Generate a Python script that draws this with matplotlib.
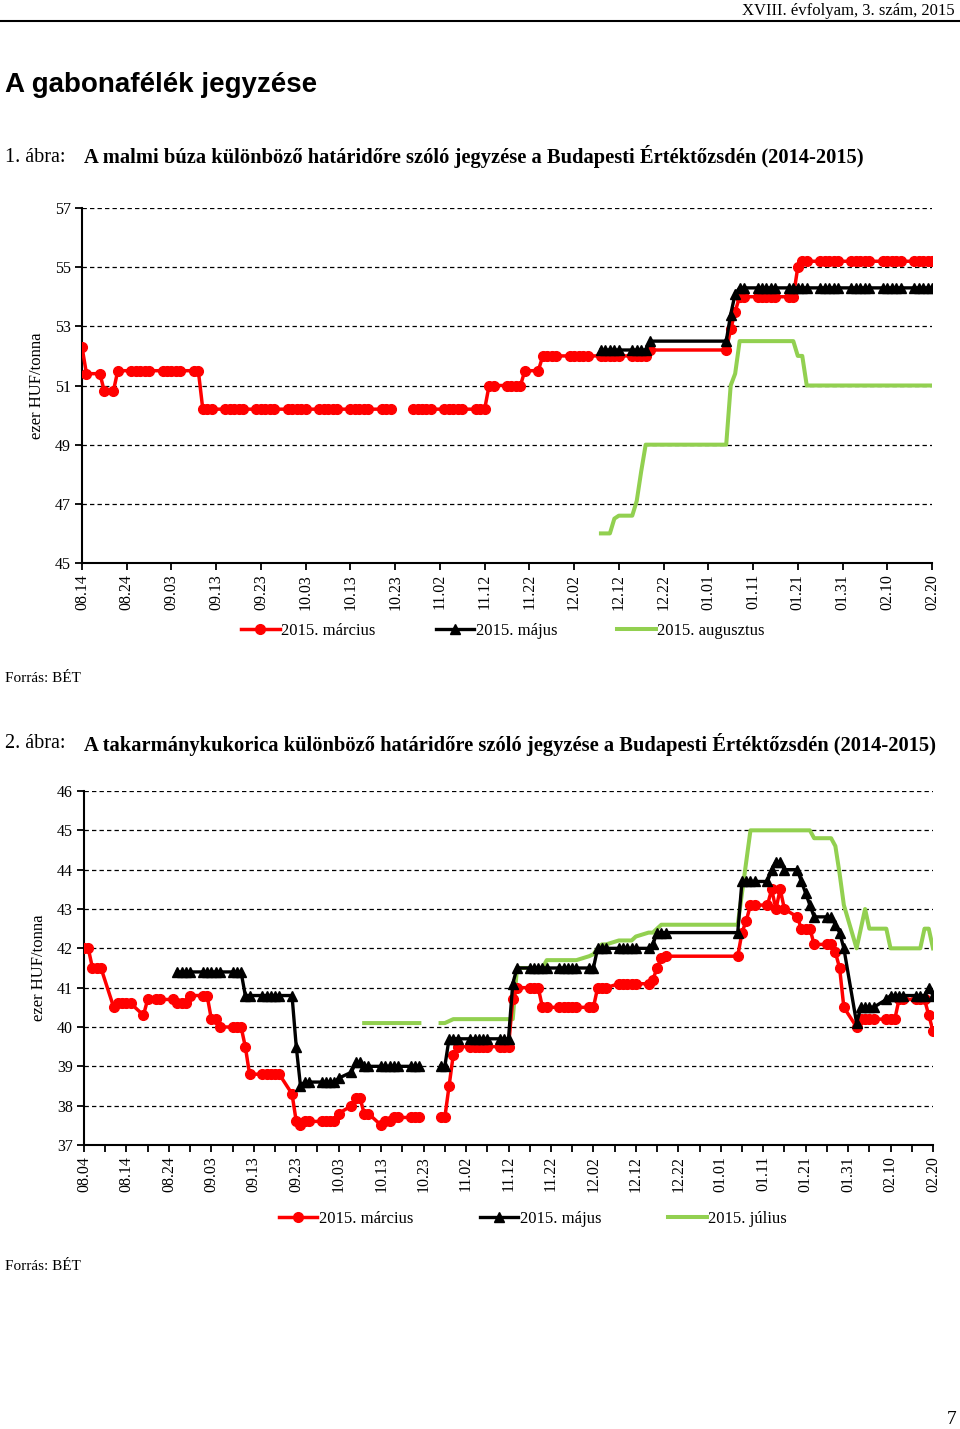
import numpy as np
import pandas as pd
import matplotlib
matplotlib.use("Agg")
import matplotlib.pyplot as plt
import matplotlib.dates as mdates

N = None        # no quote on that day (holiday / not traded yet)
GAP = np.nan    # blank cell -> the line breaks

# ---- 1. ábra: malmi búza, one row per week (Mon..Fri), first week 2014-08-11
wheat_weeks = pd.date_range("2014-08-11", "2015-02-16", freq="W-MON")
wheat_mar = [
    N, N, N, 52.3, 51.4,
    51.4, 50.8, N, 50.8, 51.5,
    51.5, 51.5, 51.5, 51.5, 51.5,
    51.5, 51.5, 51.5, 51.5, 51.5,
    51.5, 51.5, 50.2, 50.2, 50.2,
    50.2, 50.2, 50.2, 50.2, 50.2,
    50.2, 50.2, 50.2, 50.2, 50.2,
    50.2, 50.2, 50.2, 50.2, 50.2,
    50.2, 50.2, 50.2, 50.2, 50.2,
    50.2, 50.2, 50.2, 50.2, 50.2,
    50.2, 50.2, 50.2, GAP, N,
    50.2, 50.2, 50.2, 50.2, 50.2,
    50.2, 50.2, 50.2, 50.2, 50.2,
    50.2, 50.2, 50.2, 51.0, 51.0,
    51.0, 51.0, 51.0, 51.0, 51.5,
    51.5, 52.0, 52.0, 52.0, 52.0,
    52.0, 52.0, 52.0, 52.0, 52.0,
    52.0, 52.0, 52.0, 52.0, 52.0,
    52.0, 52.0, 52.0, 52.0, 52.2,
    N, N, N, N, N,
    N, N, N, N, N,
    52.2, 52.9, 53.5, 54.0, 54.0,
    54.0, 54.0, 54.0, 54.0, 54.0,
    54.0, 54.0, 55.0, 55.2, 55.2,
    55.2, 55.2, 55.2, 55.2, 55.2,
    55.2, 55.2, 55.2, 55.2, 55.2,
    55.2, 55.2, 55.2, 55.2, 55.2,
    55.2, 55.2, 55.2, 55.2, 55.2,
]
wheat_may = [N] * 85 + [
    52.2, 52.2, 52.2, 52.2, 52.2,
    52.2, 52.2, 52.2, 52.2, 52.5,
    N, N, N, N, N,
    N, N, N, N, N,
    52.5, 53.4, 54.1, 54.3, 54.3,
    54.3, 54.3, 54.3, 54.3, 54.3,
    54.3, 54.3, 54.3, 54.3, 54.3,
    54.3, 54.3, 54.3, 54.3, 54.3,
    54.3, 54.3, 54.3, 54.3, 54.3,
    54.3, 54.3, 54.3, 54.3, 54.3,
    54.3, 54.3, 54.3, 54.3, 54.3,
]
wheat_aug = [N] * 85 + [
    46.0, 46.0, 46.0, 46.5, 46.6,
    46.6, 47.1, 48.1, 49.0, 49.0,
    N, N, N, N, N,
    N, N, N, N, N,
    49.0, 51.0, 51.4, 52.5, 52.5,
    52.5, 52.5, 52.5, 52.5, 52.5,
    52.5, 52.5, 52.0, 52.0, 51.0,
    51.0, 51.0, 51.0, 51.0, 51.0,
    51.0, 51.0, 51.0, 51.0, 51.0,
    51.0, 51.0, 51.0, 51.0, 51.0,
    51.0, 51.0, 51.0, 51.0, 51.0,
]

# ---- 2. ábra: takarmánykukorica, first week 2014-08-04
corn_weeks = pd.date_range("2014-08-04", "2015-02-16", freq="W-MON")
corn_mar = [
    42.0, 42.0, 41.5, 41.5, 41.5,
    40.5, 40.6, 40.6, 40.6, 40.6,
    40.3, 40.7, N, 40.7, 40.7,
    40.7, 40.6, 40.6, 40.6, 40.8,
    40.8, 40.8, 40.2, 40.2, 40.0,
    40.0, 40.0, 40.0, 39.5, 38.8,
    38.8, 38.8, 38.8, 38.8, 38.8,
    38.3, 37.6, 37.5, 37.6, 37.6,
    37.6, 37.6, 37.6, 37.6, 37.8,
    38.0, 38.2, 38.2, 37.8, 37.8,
    37.5, 37.6, 37.6, 37.7, 37.7,
    37.7, 37.7, 37.7, GAP, N,
    37.7, 37.7, 38.5, 39.3, 39.5,
    39.5, 39.5, 39.5, 39.5, 39.5,
    39.5, 39.5, 39.5, 40.7, 41.0,
    41.0, 41.0, 41.0, 40.5, 40.5,
    40.5, 40.5, 40.5, 40.5, 40.5,
    40.5, 40.5, 41.0, 41.0, 41.0,
    41.1, 41.1, 41.1, 41.1, 41.1,
    41.1, 41.2, 41.5, 41.75, 41.8,
    N, N, N, N, N,
    N, N, N, N, N,
    41.8, 42.4, 42.7, 43.1, 43.1,
    43.1, 43.5, 43.0, 43.5, 43.0,
    42.8, 42.5, 42.5, 42.5, 42.1,
    42.1, 42.1, 41.9, 41.5, 40.5,
    40.0, 40.2, 40.2, 40.2, 40.2,
    40.2, 40.2, 40.2, 40.7, 40.7,
    40.7, 40.7, 40.7, 40.3, 39.9,
]
corn_may = [N] * 16 + [
    41.4, 41.4, 41.4, 41.4,
    41.4, 41.4, 41.4, 41.4, 41.4,
    41.4, 41.4, 41.4, 40.8, 40.8,
    40.8, 40.8, 40.8, 40.8, 40.8,
    40.8, 39.5, 38.5, 38.6, 38.6,
    38.6, 38.6, 38.6, 38.6, 38.7,
    38.85, 39.1, 39.1, 39.0, 39.0,
    39.0, 39.0, 39.0, 39.0, 39.0,
    39.0, 39.0, 39.0, GAP, N,
    39.0, 39.0, 39.7, 39.7, 39.7,
    39.7, 39.7, 39.7, 39.7, 39.7,
    39.7, 39.7, 39.7, 41.1, 41.5,
    41.5, 41.5, 41.5, 41.5, 41.5,
    41.5, 41.5, 41.5, 41.5, 41.5,
    41.5, 41.5, 42.0, 42.0, 42.0,
    42.0, 42.0, 42.0, 42.0, 42.0,
    42.0, 42.1, 42.4, 42.4, 42.4,
    N, N, N, N, N,
    N, N, N, N, N,
    42.4, 43.7, 43.7, 43.7, 43.7,
    43.7, 44.0, 44.2, 44.2, 44.0,
    44.0, 43.7, 43.4, 43.1, 42.8,
    42.8, 42.8, 42.6, 42.4, 42.0,
    40.1, 40.5, 40.5, 40.5, 40.5,
    40.7, 40.8, 40.8, 40.8, 40.8,
    40.8, 40.8, 40.8, 41.0, 40.8,
]
corn_jul = [N] * 48 + [
    40.1, 40.1,
    40.1, 40.1, 40.1, 40.1, 40.1,
    40.1, 40.1, 40.1, GAP, N,
    40.1, 40.1, 40.15, 40.2, 40.2,
    40.2, 40.2, 40.2, 40.2, 40.2,
    40.2, 40.2, 40.2, 40.2, 41.5,
    41.5, 41.5, 41.5, 41.5, 41.7,
    41.7, 41.7, 41.7, 41.7, 41.7,
    41.8, 41.85, 42.0, 42.1, 42.1,
    42.2, 42.2, 42.2, 42.2, 42.3,
    42.4, 42.4, 42.5, 42.6, 42.6,
    N, N, N, N, N,
    N, N, N, N, N,
    42.6, 43.4, 44.2, 45.0, 45.0,
    45.0, 45.0, 45.0, 45.0, 45.0,
    45.0, 45.0, 45.0, 45.0, 44.8,
    44.8, 44.8, 44.6, 43.9, 43.1,
    42.0, 42.5, 43.0, 42.5, 42.5,
    42.5, 42.0, 42.0, 42.0, 42.0,
    42.0, 42.0, 42.5, 42.5, 42.0,
]

legend1 = ["2015. március", "2015. május", "2015. augusztus"]
legend2 = ["2015. március", "2015. május", "2015. július"]

RED = "#FF0000"
GREEN = "#92D050"
SERIF = ["Liberation Serif", "DejaVu Serif"]
SANS = ["Liberation Sans", "DejaVu Sans"]

W, H = 960, 1429


def series(weeks, values):
    dates = [w + pd.Timedelta(days=d) for w in weeks for d in range(5)]
    s = pd.Series(values, index=dates[:len(values)], dtype=object)
    s = s[[v is not None for v in s]]
    return s.index, s.astype(float).values


def fy(y):
    return 1 - y / H


def make_axes(left, top, right, bottom):
    return fig.add_axes([left / W, 1 - bottom / H, (right - left) / W, (bottom - top) / H])


def draw_chart(ax, weeks, data, start, end, ymin, ymax, ystep, minor):
    mar, may, third = data
    x, y = series(weeks, mar)
    l1, = ax.plot(x, y, color=RED, lw=2.5, marker="o", ms=7, mec=RED, mfc=RED, zorder=3)
    x, y = series(weeks, may)
    l2, = ax.plot(x, y, color="black", lw=2.4, marker="^", ms=7, zorder=4)
    x, y = series(weeks, third)
    l3, = ax.plot(x, y, color=GREEN, lw=2.9, zorder=2)

    ax.set_xlim(pd.Timestamp(start), pd.Timestamp(end))
    ax.set_ylim(ymin, ymax)
    ax.set_yticks(np.arange(ymin, ymax + 0.1, ystep))
    ax.set_xticks(pd.date_range(start, end, freq="10D"))
    if minor:
        ax.set_xticks(pd.date_range(start, end, freq="5D"), minor=True)
    ax.xaxis.set_major_formatter(mdates.DateFormatter("%m.%d"))
    for yv in np.arange(ymin + ystep, ymax + 0.1, ystep):
        ax.axhline(yv, color="black", lw=0.9, ls=(0, (3.5, 2.5)), zorder=1)
    for side in ("top", "right"):
        ax.spines[side].set_visible(False)
    for side in ("left", "bottom"):
        ax.spines[side].set_linewidth(1.5)
    ax.tick_params(axis="both", which="both", direction="out", width=1.3, length=5,
                   labelsize=11.5, pad=3)
    ax.tick_params(axis="x", labelrotation=90)
    for t in ax.get_xticklabels() + ax.get_yticklabels():
        t.set_fontfamily(SERIF)
    ax.set_ylabel("ezer HUF/tonna", fontfamily=SERIF, fontsize=12, labelpad=7)
    return [l1, l2, l3]


fig = plt.figure(figsize=(W / 100, H / 100), dpi=100)

# page header
fig.text(955 / W, fy(11), "XVIII. évfolyam, 3. szám, 2015", ha="right", va="center",
         fontfamily=SERIF, fontsize=12)
fig.add_artist(plt.Line2D([0, 1], [fy(20.5), fy(20.5)], color="black", lw=1.5))
fig.text(5 / W, fy(85), "A gabonafélék jegyzése", ha="left", va="center",
         fontfamily=SANS, fontsize=20, fontweight="bold")

# 1. ábra
fig.text(5 / W, fy(157), "1. ábra:", ha="left", va="center", fontfamily=SERIF, fontsize=14.5)
fig.text(84 / W, fy(157),
         "A malmi búza különböző határidőre szóló jegyzése a Budapesti Értéktőzsdén (2014-2015)",
         ha="left", va="center", fontfamily=SERIF, fontsize=14.8, fontweight="bold")
ax1 = make_axes(82, 208, 932, 563)
h1 = draw_chart(ax1, wheat_weeks, (wheat_mar, wheat_may, wheat_aug),
                "2014-08-14", "2015-02-20", 45, 57, 2, False)
fig.legend(h1, legend1, loc="center", bbox_to_anchor=(503 / W, fy(631)), ncol=3,
           frameon=False, handlelength=2.3, handletextpad=0.1, columnspacing=3.6,
           prop={"family": SERIF, "size": 12})
fig.text(5 / W, fy(678), "Forrás: BÉT", ha="left", va="center", fontfamily=SERIF, fontsize=11)

# 2. ábra
fig.text(5 / W, fy(744), "2. ábra:", ha="left", va="center", fontfamily=SERIF, fontsize=14.5)
fig.text(84 / W, fy(744),
         "A takarmánykukorica különböző határidőre szóló jegyzése a Budapesti Értéktőzsdén (2014-2015)",
         ha="left", va="center", fontfamily=SERIF, fontsize=14.8, fontweight="bold")
ax2 = make_axes(84, 791, 933, 1145)
h2 = draw_chart(ax2, corn_weeks, (corn_mar, corn_may, corn_jul),
                "2014-08-04", "2015-02-20", 37, 46, 1, True)
fig.legend(h2, legend2, loc="center", bbox_to_anchor=(533 / W, fy(1219)), ncol=3,
           frameon=False, handlelength=2.3, handletextpad=0.1, columnspacing=4.0,
           prop={"family": SERIF, "size": 12})
fig.text(5 / W, fy(1266), "Forrás: BÉT", ha="left", va="center", fontfamily=SERIF, fontsize=11)

fig.text(952 / W, fy(1420), "7", ha="center", va="center", fontfamily=SERIF, fontsize=14)

fig.savefig("out.png", dpi=100)
